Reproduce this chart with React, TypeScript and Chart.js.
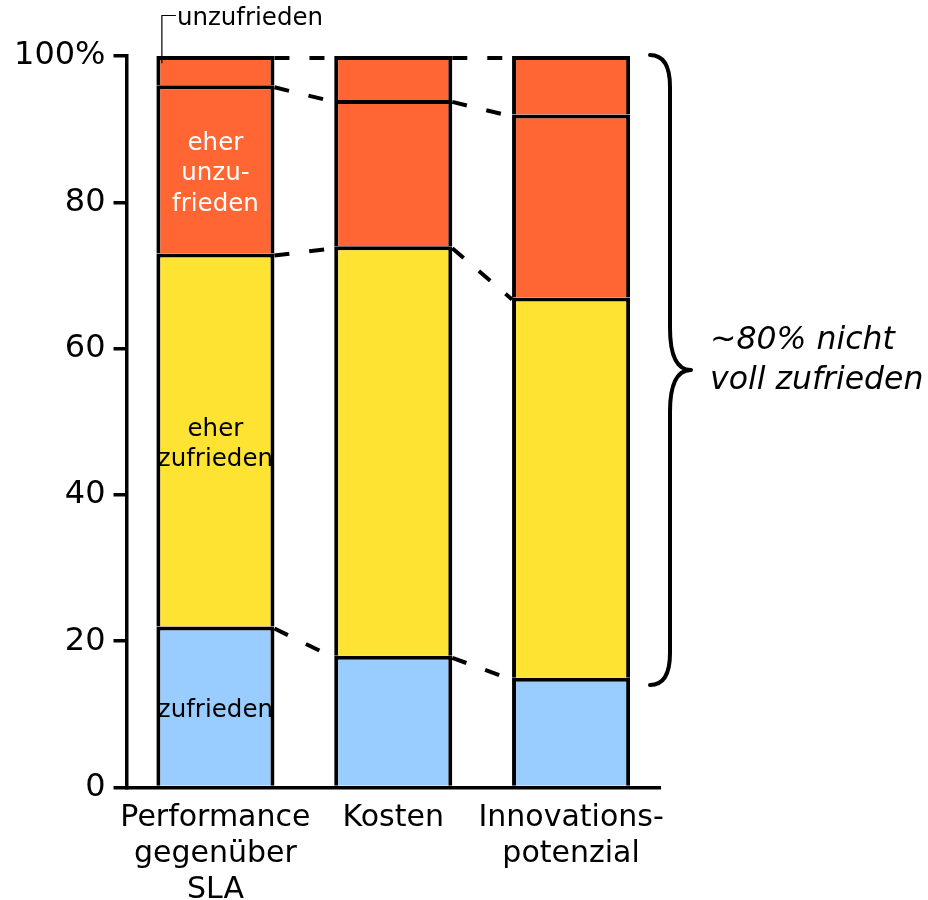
import React, { useEffect, useRef } from "react";
import { Chart, registerables } from "chart.js";

Chart.register(...registerables);

const categories: (string | string[])[] = [["Performance", "gegenüber", "SLA"], "Kosten", ["Innovations-", "potenzial"]];
const seriesNames = ["zufrieden", "eher zufrieden", "eher unzufrieden", "unzufrieden"];
const zufrieden = [22, 18, 15];
const eherZufrieden = [51, 56, 52];
const eherUnzufrieden = [23, 20, 25];
const unzufrieden = [4, 6, 8];
const yTicks = [0, 20, 40, 60, 80, 100];
const colors = ["#99CCFF", "#FFE333", "#FF6633", "#FF6633"];
const segmentLabels = [
  { dataset: 0, lines: ["zufrieden"], color: "#000000" },
  { dataset: 1, lines: ["eher", "zufrieden"], color: "#000000" },
  { dataset: 2, lines: ["eher", "unzu-", "frieden"], color: "#FFFFFF" },
];
const calloutText = "unzufrieden";
const braceRange = [14, 100];
const braceText = ["~80% nicht", "voll zufrieden"];

const FONT = "'DejaVu Sans', Verdana, sans-serif";

const overlayPlugin = {
  id: "overlay",
  afterDatasetsDraw(chart: any) {
    const ctx = chart.ctx;
    const y = chart.scales.y;
    const area = chart.chartArea;
    ctx.save();

    // dashed connectors
    ctx.strokeStyle = "#000";
    ctx.lineWidth = 4;
    ctx.setLineDash([15, 20]);
    ctx.lineCap = "butt";
    for (let d = 0; d < chart.data.datasets.length; d++) {
      const meta = chart.getDatasetMeta(d);
      for (let i = 0; i < meta.data.length - 1; i++) {
        const a = meta.data[i].getProps(["x", "y", "width"], true);
        const b = meta.data[i + 1].getProps(["x", "y", "width"], true);
        ctx.beginPath();
        ctx.moveTo(a.x + a.width / 2, a.y + 2);
        ctx.lineTo(b.x - b.width / 2, b.y + 2);
        ctx.stroke();
      }
    }
    ctx.setLineDash([]);

    // labels inside first bar
    ctx.font = `24.5px ${FONT}`;
    ctx.textAlign = "center";
    ctx.textBaseline = "middle";
    const lh = 30.5;
    segmentLabels.forEach((s) => {
      const el = chart.getDatasetMeta(s.dataset).data[0].getProps(["x", "y", "base"], true);
      const cy = (el.y + el.base) / 2 + 4.5;
      ctx.fillStyle = s.color;
      s.lines.forEach((t, k) => {
        ctx.fillText(t, el.x, cy + (k - (s.lines.length - 1) / 2) * lh);
      });
    });

    // callout for "unzufrieden"
    const topEl = chart.getDatasetMeta(3).data[0].getProps(["x", "y", "width"], true);
    const lx = topEl.x - topEl.width / 2 + 5.5;
    const ly = 15.5;
    ctx.lineWidth = 1.2;
    ctx.strokeStyle = "#000";
    ctx.beginPath();
    ctx.moveTo(lx, y.getPixelForValue(99));
    ctx.lineTo(lx, ly);
    ctx.lineTo(lx + 14, ly);
    ctx.stroke();
    ctx.fillStyle = "#000";
    ctx.textAlign = "left";
    ctx.fillText(calloutText, lx + 15, 19);

    // brace
    const top = y.getPixelForValue(braceRange[1]) - 1;
    const bottom = y.getPixelForValue(braceRange[0]);
    const mid = (top + bottom) / 2;
    const xL = area.right - 10;
    const xV = xL + 20;
    const xT = xL + 41;
    ctx.lineWidth = 4;
    ctx.lineCap = "round";
    ctx.beginPath();
    ctx.moveTo(xL, top);
    ctx.quadraticCurveTo(xV, top, xV, top + 32);
    ctx.lineTo(xV, mid - 42);
    ctx.quadraticCurveTo(xV, mid, xT, mid);
    ctx.moveTo(xT, mid);
    ctx.quadraticCurveTo(xV, mid, xV, mid + 42);
    ctx.lineTo(xV, bottom - 32);
    ctx.quadraticCurveTo(xV, bottom, xL, bottom);
    ctx.stroke();

    ctx.font = `italic 31.5px ${FONT}`;
    ctx.textAlign = "left";
    ctx.textBaseline = "middle";
    ctx.fillText(braceText[0], xT + 19, mid - 29);
    ctx.fillText(braceText[1], xT + 19, mid + 11);

    ctx.restore();
  },
};

export default function App() {
  const ref = useRef<HTMLCanvasElement | null>(null);
  useEffect(() => {
    if (!ref.current) return;
    const series = [zufrieden, eherZufrieden, eherUnzufrieden, unzufrieden];
    const chart = new Chart(ref.current, {
      type: "bar",
      data: {
        labels: categories,
        datasets: series.map((data, i) => ({
          label: seriesNames[i],
          data,
          backgroundColor: colors[i],
          borderColor: "#000",
          borderWidth: 4,
          borderSkipped: "bottom",
          inflateAmount: 0,
          categoryPercentage: 1,
          barPercentage: 0.664,
        })),
      } as any,
      options: {
        animation: false,
        responsive: false,
        maintainAspectRatio: false,
        layout: { padding: { top: 56, right: 268, bottom: 0, left: 0 } },
        plugins: { legend: { display: false }, tooltip: { enabled: false } },
        scales: {
          x: {
            stacked: true,
            grid: { display: false, drawTicks: false },
            border: { display: true, color: "#000", width: 3.5 },
            ticks: { color: "#000", font: { family: FONT, size: 30 }, padding: 13, maxRotation: 0, autoSkip: false },
            afterFit: (s: any) => { s.height = 112.5; },
          },
          y: {
            stacked: true,
            min: 0,
            max: 100,
            afterBuildTicks: (s: any) => { s.ticks = yTicks.map((v) => ({ value: v })); },
            grid: { drawOnChartArea: false, drawTicks: true, tickLength: 13, color: "#000", lineWidth: 3.5 },
            border: { display: true, color: "#000", width: 3.5 },
            ticks: {
              color: "#000",
              font: { family: FONT, size: 32 },
              padding: 8,
              callback: (v: any) => (Number(v) === 100 ? "100%" : String(v)),
            },
            afterFit: (s: any) => { s.width = 126.5; },
          },
        },
      } as any,
      plugins: [overlayPlugin],
    });
    return () => chart.destroy();
  }, []);
  return (
    <div style={{ position: "absolute", left: 0, top: 0, width: 928, height: 900, background: "#fff" }}>
      <canvas ref={ref} width={928} height={900} style={{ width: 928, height: 900, display: "block" }} />
    </div>
  );
}
